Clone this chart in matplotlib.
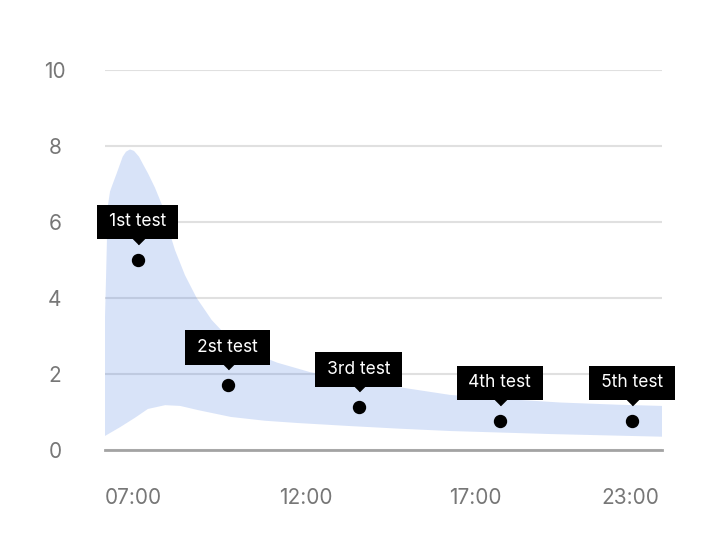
import numpy as np
import matplotlib
matplotlib.use('Agg')
import matplotlib.pyplot as plt
from matplotlib.transforms import offset_copy

plt.rcParams['font.family'] = ['Inter', 'DejaVu Sans']

# x positions are given as percent of the time axis width
tick_pos = [5.0, 36.0, 66.5, 94.3]
tick_labels = ['07:00', '12:00', '17:00', '23:00']

test_x = [5.9, 22.0, 45.6, 70.9, 94.6]
test_y = [5.0, 1.7, 1.12, 0.77, 0.77]
test_labels = ['1st test', '2st test', '3rd test', '4th test', '5th test']

# upper edge of the shaded range
upper_x = [0.0, 0.18, 0.36, 0.54, 0.9, 1.26, 2.1, 3.18, 3.77, 4.49, 5.21, 6.1,
           6.9, 7.72, 8.98, 10.23, 11.31, 12.57, 14.36, 16.46, 19.16, 21.54,
           24.24, 27.47, 30.88, 36.8, 43.99, 52.96, 61.94, 70.92, 81.69, 92.46,
           100.0]
upper_y = [3.5, 4.5, 5.6, 6.45, 6.8, 6.95, 7.28, 7.72, 7.85, 7.91, 7.87, 7.72,
           7.5, 7.28, 6.9, 6.45, 5.85, 5.26, 4.6, 4.0, 3.42, 3.05,
           2.75, 2.5, 2.3, 2.05, 1.85, 1.65, 1.45, 1.35, 1.25, 1.19,
           1.16]

# lower edge of the shaded range
lower_x = [0.0, 2.7, 5.4, 7.7, 10.8, 13.5, 16.7, 22.6, 28.7, 34.6, 44.0, 53.0,
           61.9, 79.9, 100.0]
lower_y = [0.37, 0.6, 0.85, 1.08, 1.18, 1.16, 1.05, 0.87, 0.77, 0.71, 0.63,
           0.56, 0.5, 0.42, 0.35]

fig = plt.figure(figsize=(7.06, 5.6), dpi=100)
ax = fig.add_axes([105 / 706, 110 / 560, 557 / 706, 380 / 560])

# shaded band
band_x = np.concatenate([upper_x, lower_x[::-1]])
band_y = np.concatenate([upper_y, lower_y[::-1]])
ax.fill(band_x, band_y, color='#3d73e0', alpha=0.2, lw=0, zorder=2)

# points
ax.plot(test_x, test_y, 'o', color='black', markersize=8.6, zorder=4)

# callout pointers and labels
tri = offset_copy(ax.transData, fig=fig, x=0, y=23, units='dots')
ax.plot(test_x, test_y, linestyle='none', marker=[(-1, 0), (1, 0), (0, -1)],
        markersize=10.5, color='black', transform=tri, zorder=5, clip_on=False)
for x, y, lab in zip(test_x, test_y, test_labels):
    ax.annotate('\u2009' + lab + '\u2009', xy=(x, y), xytext=(0, 38 * 0.72),
                textcoords='offset points', ha='center', va='center',
                color='white', fontsize=12.5, zorder=6,
                bbox=dict(boxstyle='square,pad=0.5', fc='black', ec='none'))

ax.set_xlim(0, 100)
ax.set_ylim(0, 10)
ax.set_xticks(tick_pos)
ax.set_xticklabels(tick_labels)
ax.set_yticks([0, 2, 4, 6, 8, 10])

ax.grid(axis='y', color='#e0e0e0', lw=1.5, zorder=1)
ax.set_axisbelow(True)
for s in ['top', 'right', 'left']:
    ax.spines[s].set_visible(False)
ax.spines['bottom'].set_color('#a3a3a3')
ax.spines['bottom'].set_linewidth(2)
ax.spines['bottom'].set_zorder(3)

ax.tick_params(axis='both', length=0, labelsize=15, labelcolor='#777777')
ax.tick_params(axis='x', pad=27)
ax.tick_params(axis='y', pad=36)
for t in ax.get_yticklabels():
    t.set_horizontalalignment('center')

fig.savefig('out.png', dpi=100)
